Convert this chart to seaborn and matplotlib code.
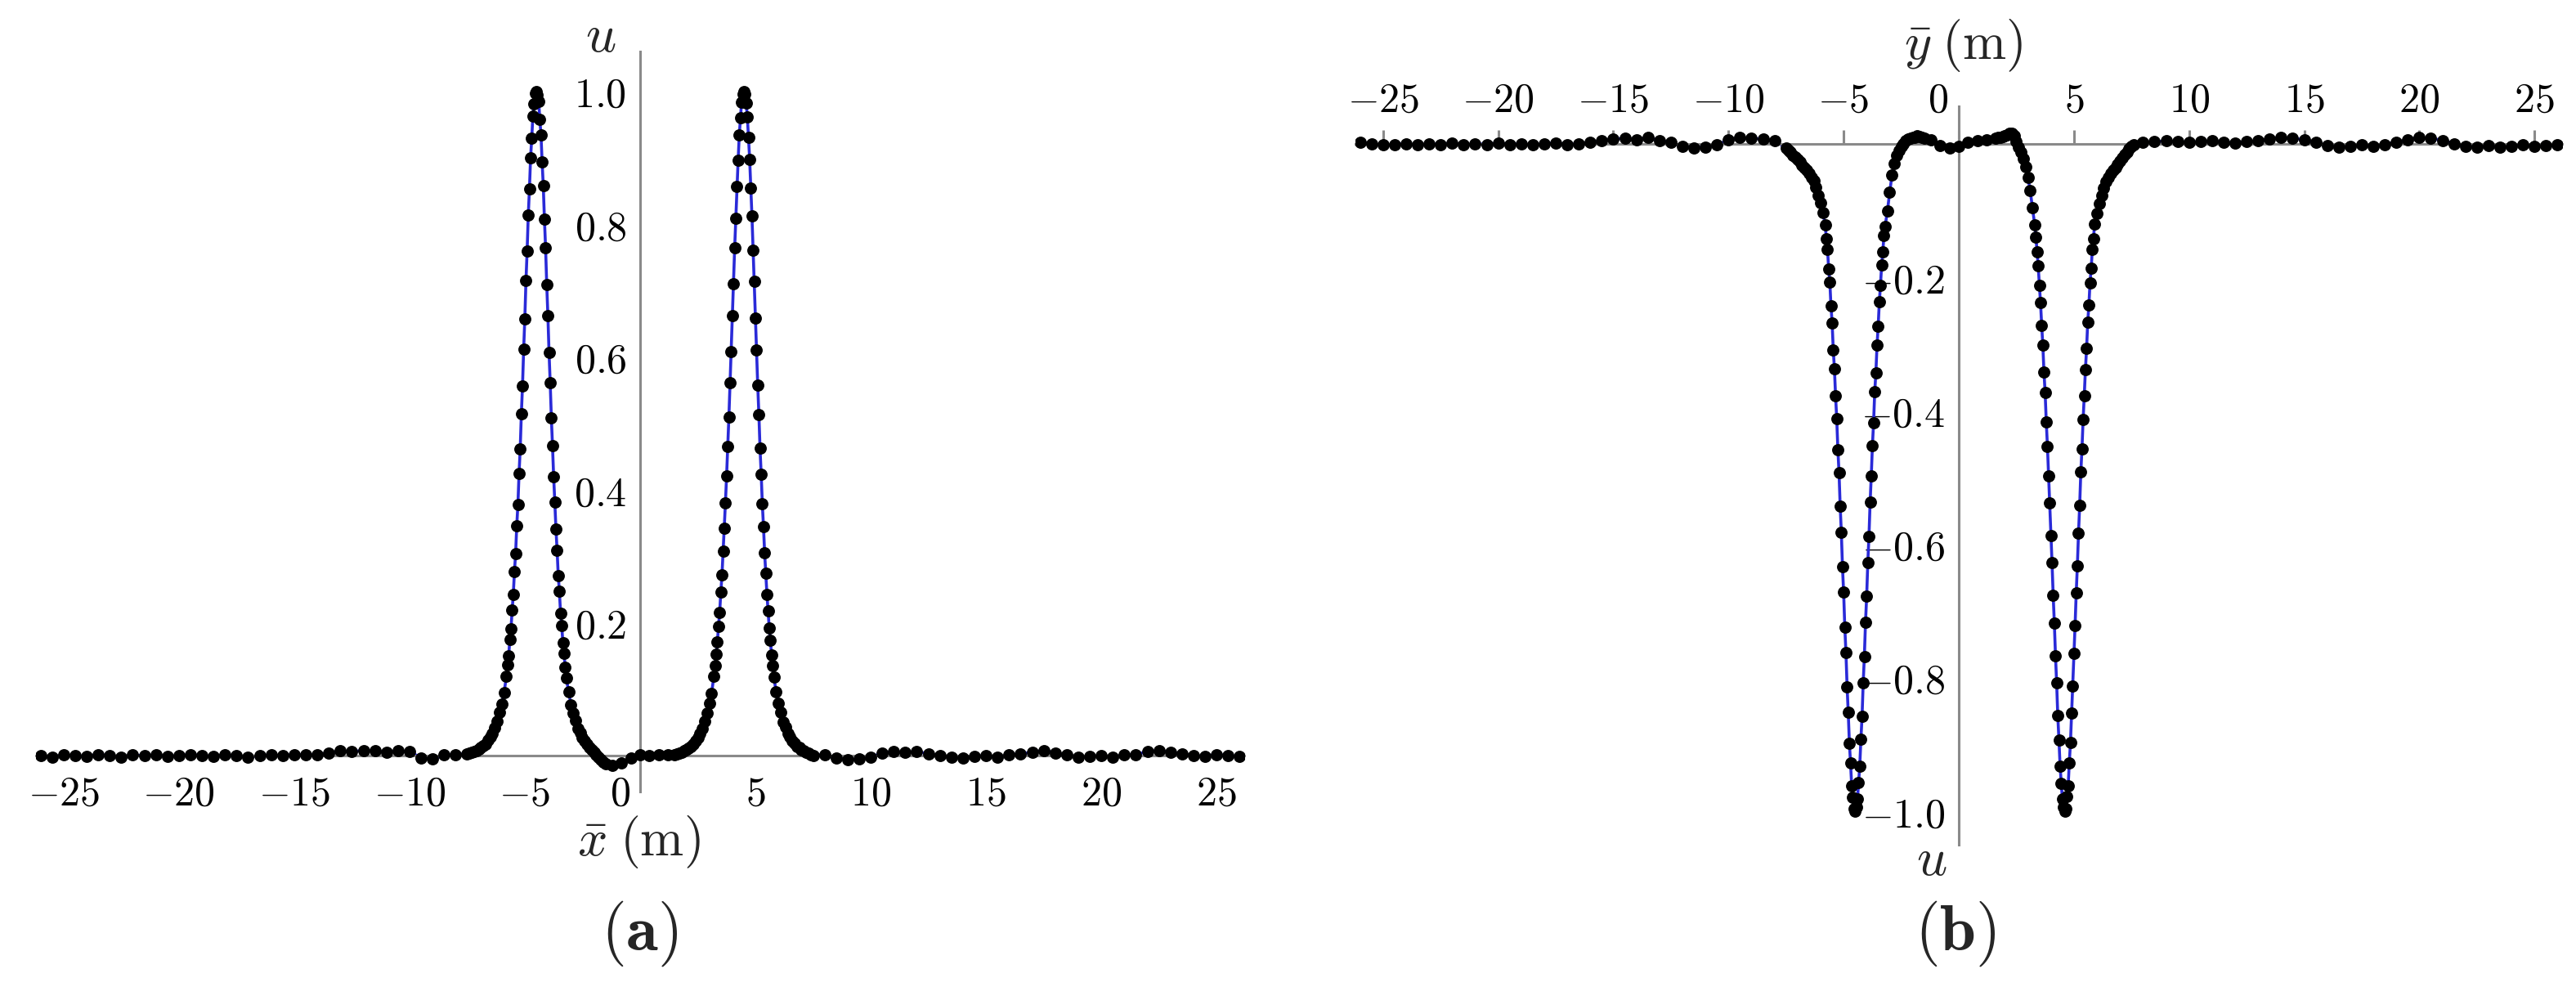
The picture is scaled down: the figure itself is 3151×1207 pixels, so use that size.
import matplotlib
matplotlib.use('Agg')
import matplotlib.pyplot as plt
from matplotlib.transforms import ScaledTranslation
import seaborn as sns

# --- sample positions (m) ---
x_base_left = [-26.0, -25.5, -25.0, -24.5, -24.0, -23.5, -23.0, -22.5, -22.0, -21.5,
               -21.0, -20.5, -20.0, -19.5, -19.0, -18.5, -18.0, -17.5, -17.0, -16.5,
               -16.0, -15.5, -15.0, -14.5, -14.0, -13.5, -13.0, -12.5, -12.0, -11.5,
               -11.0, -10.5, -10.0, -9.5, -9.0, -8.5, -8.0]
x_base_right = [8.0, 8.5, 9.0, 9.5, 10.0, 10.5, 11.0, 11.5, 12.0, 12.5,
                13.0, 13.5, 14.0, 14.5, 15.0, 15.5, 16.0, 16.5, 17.0, 17.5,
                18.0, 18.5, 19.0, 19.5, 20.0, 20.5, 21.0, 21.5, 22.0, 22.5,
                23.0, 23.5, 24.0, 24.5, 25.0, 25.5, 26.0]
x_mid = [-1.2, -0.8, -0.4, 0.0, 0.4, 0.8, 1.2]

x_peak_left = [-7.5, -7.4, -7.3, -7.2, -7.1, -7.0, -6.9, -6.8, -6.7, -6.6, -6.5, -6.4, -6.3, -6.2, -6.1, -6.0, -5.9, -5.8,
               -5.75, -5.70, -5.65, -5.60, -5.55, -5.50, -5.45, -5.40, -5.35, -5.30, -5.25, -5.20, -5.15,
               -5.10, -5.05, -5.00, -4.95, -4.90, -4.85, -4.80, -4.75, -4.70, -4.65, -4.60, -4.55, -4.50,
               -4.45, -4.40, -4.35, -4.30, -4.25, -4.20, -4.15, -4.10, -4.05, -4.00, -3.95, -3.90, -3.85,
               -3.80, -3.75, -3.70, -3.65, -3.60, -3.55, -3.50, -3.45, -3.40, -3.35, -3.30, -3.25,
               -3.2, -3.1, -3.0, -2.9, -2.8, -2.7, -2.6, -2.5, -2.4, -2.3, -2.2, -2.1, -2.0, -1.9, -1.8, -1.7, -1.6, -1.5]

x_peak_right_a = [1.5, 1.6, 1.7, 1.8, 1.9, 2.0, 2.1, 2.2, 2.3, 2.4, 2.5, 2.6, 2.7, 2.8, 2.9, 3.0, 3.1, 3.2,
                  3.25, 3.30, 3.35, 3.40, 3.45, 3.50, 3.55, 3.60, 3.65, 3.70, 3.75, 3.80, 3.85,
                  3.90, 3.95, 4.00, 4.05, 4.10, 4.15, 4.20, 4.25, 4.30, 4.35, 4.40, 4.45, 4.50,
                  4.55, 4.60, 4.65, 4.70, 4.75, 4.80, 4.85, 4.90, 4.95, 5.00, 5.05, 5.10, 5.15,
                  5.20, 5.25, 5.30, 5.35, 5.40, 5.45, 5.50, 5.55, 5.60, 5.65, 5.70, 5.75,
                  5.8, 5.9, 6.0, 6.1, 6.2, 6.3, 6.4, 6.5, 6.6, 6.7, 6.8, 6.9, 7.0, 7.1, 7.2, 7.3, 7.4, 7.5]

x_peak_right_b = [1.6, 1.7, 1.8, 1.9, 2.0, 2.1, 2.2, 2.3, 2.4, 2.5, 2.6, 2.7, 2.8, 2.9, 3.0, 3.1, 3.2, 3.3,
                  3.35, 3.40, 3.45, 3.50, 3.55, 3.60, 3.65, 3.70, 3.75, 3.80, 3.85, 3.90, 3.95,
                  4.00, 4.05, 4.10, 4.15, 4.20, 4.25, 4.30, 4.35, 4.40, 4.45, 4.50, 4.55, 4.60,
                  4.65, 4.70, 4.75, 4.80, 4.85, 4.90, 4.95, 5.00, 5.05, 5.10, 5.15, 5.20, 5.25,
                  5.30, 5.35, 5.40, 5.45, 5.50, 5.55, 5.60, 5.65, 5.70, 5.75, 5.80, 5.85,
                  5.9, 6.0, 6.1, 6.2, 6.3, 6.4, 6.5, 6.6, 6.7, 6.8, 6.9, 7.0, 7.1, 7.2, 7.3, 7.4, 7.5, 7.6]

# --- panel (a): u along x ---
ua_base_left = [0.000, -0.002, 0.001, 0.000, -0.001, 0.002, 0.000, -0.002, 0.001, 0.000,
                0.001, -0.001, 0.000, 0.002, 0.000, -0.001, 0.001, 0.000, -0.002, 0.000,
                0.001, 0.000, 0.002, 0.001, 0.002, 0.004, 0.007, 0.006, 0.008, 0.007,
                0.005, 0.007, 0.006, -0.003, -0.005, 0.001, 0.002]
ua_peak_left = [0.003, 0.004, 0.005, 0.006, 0.008, 0.010, 0.012, 0.015, 0.018, 0.023, 0.028, 0.034, 0.042, 0.052, 0.065, 0.078, 0.095, 0.119,
                0.137, 0.150, 0.175, 0.191, 0.219, 0.243, 0.277, 0.304, 0.346, 0.378,
                0.425, 0.462, 0.515, 0.557, 0.612, 0.658, 0.715, 0.760, 0.814, 0.853,
                0.900, 0.930, 0.963, 0.981, 0.997, 1.000,
                0.995, 0.985, 0.958, 0.935, 0.894, 0.858, 0.808, 0.765, 0.709, 0.663,
                0.607, 0.562, 0.509, 0.467, 0.420, 0.382, 0.341, 0.309, 0.271, 0.247,
                0.214, 0.196, 0.170, 0.154, 0.133,
                0.117, 0.096, 0.077, 0.064, 0.053, 0.041, 0.035, 0.027, 0.022, 0.017, 0.013, 0.009, 0.005, 0.002, -0.002, -0.006, -0.010, -0.012]
ua_mid = [-0.014, -0.011, -0.004, 0.001, 0.000, 0.001, 0.002]
ua_peak_right = [0.002, 0.003, 0.004, 0.005, 0.007, 0.009, 0.011, 0.014, 0.018, 0.022, 0.027, 0.034, 0.041, 0.052, 0.064, 0.079, 0.094, 0.120,
                 0.135, 0.153, 0.171, 0.195, 0.216, 0.246, 0.272, 0.308, 0.342, 0.381,
                 0.421, 0.466, 0.510, 0.561, 0.608, 0.663, 0.710, 0.764, 0.809, 0.857,
                 0.896, 0.934, 0.960, 0.984, 0.996, 1.000,
                 0.996, 0.982, 0.962, 0.931, 0.898, 0.855, 0.812, 0.761, 0.714, 0.659,
                 0.611, 0.558, 0.514, 0.463, 0.424, 0.379, 0.345, 0.305, 0.275, 0.243,
                 0.218, 0.192, 0.174, 0.151, 0.136,
                 0.118, 0.096, 0.079, 0.066, 0.051, 0.043, 0.033, 0.029, 0.022, 0.019, 0.014, 0.012, 0.009, 0.007, 0.005, 0.004, 0.002, 0.000]
ua_base_right = [0.002, -0.004, -0.006, -0.005, -0.002, 0.004, 0.006, 0.005, 0.006, 0.003,
                 0.000, -0.002, -0.003, -0.001, 0.000, -0.002, 0.001, 0.003, 0.005, 0.008,
                 0.004, 0.001, -0.002, -0.001, 0.000, -0.002, 0.001, 0.002, 0.006, 0.008,
                 0.005, 0.003, 0.000, -0.001, 0.002, 0.000, -0.001]

# --- panel (b): u along y ---
ub_base_left = [0.002, 0.000, -0.002, -0.001, 0.000, -0.002, 0.000, -0.001, 0.001, -0.002,
                0.000, -0.001, 0.001, -0.001, 0.000, -0.002, 0.000, 0.001, -0.001, 0.000,
                0.002, 0.004, 0.007, 0.008, 0.006, 0.009, 0.005, 0.002, -0.004, -0.006,
                -0.005, -0.002, 0.006, 0.009, 0.008, 0.007, 0.004]
ub_peak_left = [-0.006, -0.010, -0.013, -0.017, -0.020, -0.024, -0.027, -0.032, -0.036, -0.040, -0.045, -0.050, -0.056, -0.065, -0.077, -0.089, -0.103, -0.121,
                -0.143, -0.158, -0.188, -0.207, -0.243, -0.268, -0.309, -0.337, -0.378, -0.412,
                -0.458, -0.493, -0.543, -0.582, -0.634, -0.672, -0.724, -0.762, -0.813, -0.852,
                -0.898, -0.928, -0.962, -0.979, -0.996, -1.000,
                -0.994, -0.982, -0.957, -0.932, -0.892, -0.858, -0.807, -0.768, -0.717, -0.678,
                -0.627, -0.588, -0.537, -0.498, -0.452, -0.418, -0.372, -0.343, -0.302, -0.273,
                -0.237, -0.212, -0.182, -0.162, -0.138,
                -0.124, -0.101, -0.073, -0.047, -0.030, -0.018, -0.010, -0.004, 0.000, 0.004, 0.007, 0.008, 0.009, 0.010, 0.012, 0.011, 0.010, 0.008]
ub_mid = [0.006, -0.003, -0.006, -0.004, 0.002, 0.004, 0.006]
ub_peak_right = [0.008, 0.009, 0.010, 0.011, 0.012, 0.013, 0.015, 0.016, 0.012, 0.003, -0.005, -0.013, -0.022, -0.035, -0.050, -0.070, -0.096, -0.122,
                 -0.140, -0.162, -0.183, -0.212, -0.238, -0.272, -0.302, -0.342, -0.373, -0.417,
                 -0.453, -0.497, -0.538, -0.587, -0.628, -0.677, -0.718, -0.767, -0.808, -0.857,
                 -0.893, -0.932, -0.958, -0.981, -0.994, -1.000,
                 -0.996, -0.978, -0.962, -0.927, -0.897, -0.853, -0.812, -0.763, -0.722, -0.673,
                 -0.632, -0.583, -0.542, -0.492, -0.457, -0.413, -0.377, -0.338, -0.307, -0.267,
                 -0.242, -0.208, -0.187, -0.158, -0.142,
                 -0.120, -0.104, -0.090, -0.077, -0.066, -0.057, -0.050, -0.045, -0.040, -0.036, -0.031, -0.026, -0.021, -0.016, -0.012, -0.008, -0.004, -0.001]
ub_base_right = [0.002, 0.003, 0.004, 0.003, 0.002, 0.003, 0.004, 0.002, 0.001, 0.003,
                 0.004, 0.007, 0.009, 0.008, 0.006, 0.002, -0.003, -0.005, -0.004, -0.002,
                 -0.004, -0.001, 0.002, 0.006, 0.009, 0.008, 0.005, 0.000, -0.004, -0.005,
                 -0.003, -0.005, -0.004, -0.002, -0.004, -0.003, -0.002]

x_ticks = [-25, -20, -15, -10, -5, 0, 5, 10, 15, 20, 25]
ya_ticks = [0.2, 0.4, 0.6, 0.8, 1.0]
yb_ticks = [-1.0, -0.8, -0.6, -0.4, -0.2]

xa = x_base_left + x_peak_left + x_mid + x_peak_right_a + x_base_right
ua = ua_base_left + ua_peak_left + ua_mid + ua_peak_right + ua_base_right
xb = x_base_left + x_peak_left + x_mid + x_peak_right_b + x_base_right
ub = ub_base_left + ub_peak_left + ub_mid + ub_peak_right + ub_base_right

# --- figure ---
sns.set_style('white')
plt.rcParams['mathtext.fontset'] = 'cm'
plt.rcParams['font.family'] = ['DejaVu Serif']

W, H = 3151, 1207
fig = plt.figure(figsize=(W / 100, H / 100), dpi=100)

grey = '#8a8a8a'
blue = '#2a2ad8'


def px_box(x0, y0, x1, y1):
    return [x0 / W, 1 - y1 / H, (x1 - x0) / W, (y1 - y0) / H]


def ftext(x, y, s, size):
    fig.text(x / W, 1 - y / H, s, ha='center', va='center', fontsize=size)


ax_a = fig.add_axes(px_box(44, 63, 1522, 968))
ax_b = fig.add_axes(px_box(1658, 130, 3134, 1033))

for ax, x, u in [(ax_a, xa, ua), (ax_b, xb, ub)]:
    ax.set_facecolor('none')
    sns.lineplot(x=x, y=u, ax=ax, color=blue, linewidth=2.6, estimator=None, sort=False, zorder=2)
    sns.scatterplot(x=x, y=u, ax=ax, color='black', s=115, linewidth=0, zorder=3)
    ax.set_xlim(-26.2, 26.2)
    ax.set_xticks(x_ticks)
    ax.set_xticklabels([f'${v}$' for v in x_ticks])
    ax.set_xlabel('')
    ax.set_ylabel('')
    ax.spines['left'].set_position(('data', 0))
    ax.spines['right'].set_visible(False)
    for s in ax.spines.values():
        s.set_color(grey)
        s.set_linewidth(2.2)
    ax.tick_params(colors='black', labelsize=36, width=2.2, length=12)
    ax.tick_params(axis='y', direction='in', color=grey, pad=12)

# (a): axes crossing at origin, ticks pointing up / right
ax_a.set_ylim(-0.054, 1.06)
ax_a.spines['bottom'].set_position(('data', 0))
ax_a.spines['top'].set_visible(False)
ax_a.set_yticks(ya_ticks)
ax_a.set_yticklabels([f'${v:.1f}$' for v in ya_ticks])
ax_a.tick_params(axis='x', direction='in', color=grey, pad=16)

# (b): horizontal axis on top, values downward
ax_b.set_ylim(-1.05, 0.056)
ax_b.spines['top'].set_position(('data', 0))
ax_b.spines['bottom'].set_visible(False)
ax_b.xaxis.set_ticks_position('top')
ax_b.set_yticks(yb_ticks)
ax_b.set_yticklabels([f'${v:.1f}$' for v in yb_ticks])
ax_b.tick_params(axis='x', direction='out', color=grey, pad=8)

# "0" label sits left of the vertical axis
shift = ScaledTranslation(-0.25, 0, fig.dpi_scale_trans)
for ax in (ax_a, ax_b):
    for lab in ax.get_xticklabels():
        if lab.get_text() == '$0$':
            lab.set_transform(lab.get_transform() + shift)

ftext(735, 45, r'$u$', 47)
ftext(781, 1030, r'$\bar{x}\;(\mathrm{m})$', 46)
ftext(782, 1142, r'$(\mathbf{a})$', 57)

ftext(2402, 55, r'$\bar{y}\;(\mathrm{m})$', 46)
ftext(2363, 1052, r'$u$', 47)
ftext(2392, 1142, r'$(\mathbf{b})$', 57)

fig.savefig('out.png', dpi=100, facecolor='white')
